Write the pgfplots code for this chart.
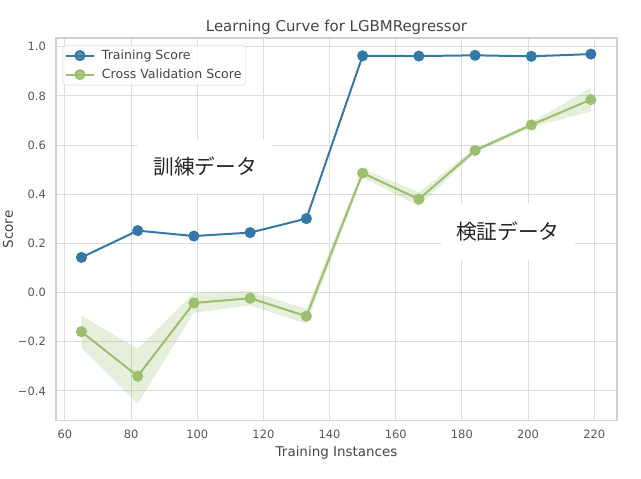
\documentclass[border=0pt]{standalone}
\usepackage{fontspec}
\setmainfont{DejaVu Sans}
\newfontfamily\jp{Noto Sans CJK JP}
\usepackage{pgfplots}
\pgfplotsset{compat=1.18}
\definecolor{tblue}{HTML}{3478A8}
\definecolor{vgreen}{HTML}{9BBE6F}
\definecolor{gridc}{HTML}{DCDCDC}
\definecolor{framec}{HTML}{D0D0D0}
\definecolor{txt}{HTML}{444444}
\definecolor{tick}{HTML}{555555}
\begin{document}
\begin{tikzpicture}
\path[use as bounding box] (0,0) rectangle (641bp,479bp);
\begin{axis}[
  at={(56bp,58.3bp)}, anchor=south west,
  scale only axis, width=561bp, height=382.7bp,
  xmin=57.3, xmax=226.9, ymin=-0.521, ymax=1.0355,
  xtick={60,80,100,120,140,160,180,200,220},
  xticklabels={60,80,100,120,140,160,180,200,220},
  ytick={-0.4,-0.2,0,0.2,0.4,0.6,0.8,1.0},
  yticklabels={−0.4,−0.2,0.0,0.2,0.4,0.6,0.8,1.0},
  major tick length=0pt,
  tick label style={font=\fontsize{11.5}{13}\selectfont, text=tick, inner sep=0pt},
  yticklabel style={anchor=east, xshift=-10bp},
  xticklabel style={anchor=north, yshift=-9.3bp},
  axis line style={draw=framec, line width=1.2bp},
  grid=major, grid style={draw=gridc, line width=1bp},
  title={Learning Curve for LGBMRegressor},
  title style={font=\fontsize{15}{18}\selectfont, text=txt, at={(axis description cs:0.5,1)}, anchor=base, yshift=0.5bp, inner sep=0pt},
  xlabel={Training Instances},
  ylabel={Score},
  xlabel style={font=\fontsize{13.5}{16}\selectfont, text=txt, at={(axis description cs:0.5,-0.0849)}, anchor=center},
  ylabel style={font=\fontsize{13.5}{16}\selectfont, text=txt, at={(axis description cs:-0.0856,0.5)}, anchor=center, rotate=0},
  legend style={at={(axis description cs:0.012,0.982)}, anchor=north west, draw=framec, rounded corners=3bp, fill=white, fill opacity=0.8, text opacity=1, font=\fontsize{12.6}{15}\selectfont, text=txt, inner xsep=2bp, inner ysep=3bp, row sep=4bp},
  legend cell align=left,
  legend image code/.code={\draw[#1, mark repeat=2, mark phase=2] plot coordinates {(0bp,0bp) (14bp,0bp) (28bp,0bp)}; \path (33bp,0bp);},
]
% validation band (mean +/- std)
\addplot[draw=none, fill=vgreen, fill opacity=0.25, forget plot] coordinates {
 (65,-0.094) (82,-0.228) (99,-0.002) (116,0.006) (133,-0.066) (150,0.503) (167,0.408) (184,0.587) (201,0.692) (219,0.833)
 (219,0.737) (201,0.672) (184,0.569) (167,0.352) (150,0.469) (133,-0.126) (116,-0.052) (99,-0.082) (82,-0.452) (65,-0.224)
} -- cycle;
\addplot[color=tblue, line width=2bp, mark=*, mark size=4.5bp, mark options={solid, fill=tblue, draw=tblue}] coordinates {
 (65,0.143) (82,0.252) (99,0.230) (116,0.244) (133,0.301) (150,0.963) (167,0.962) (184,0.965) (201,0.961) (219,0.970)
};
\addlegendentry{Training Score}
\addplot[color=vgreen, line width=2bp, mark=*, mark size=4.5bp, mark options={solid, fill=vgreen, draw=vgreen}] coordinates {
 (65,-0.159) (82,-0.340) (99,-0.042) (116,-0.023) (133,-0.096) (150,0.486) (167,0.380) (184,0.578) (201,0.682) (219,0.785)
};
\addlegendentry{Cross Validation Score}
\node[fill=white, minimum width=134bp, minimum height=54bp, inner sep=0pt, font=\jp\fontsize{20.8}{24}\selectfont, text=black!85] at (axis cs:102.4,0.513) {訓練データ};
\node[fill=white, minimum width=134bp, minimum height=57bp, inner sep=0pt, font=\jp\fontsize{20.8}{24}\selectfont, text=black!85] at (axis cs:193.9,0.250) {検証データ};
\end{axis}
\end{tikzpicture}
\end{document}
